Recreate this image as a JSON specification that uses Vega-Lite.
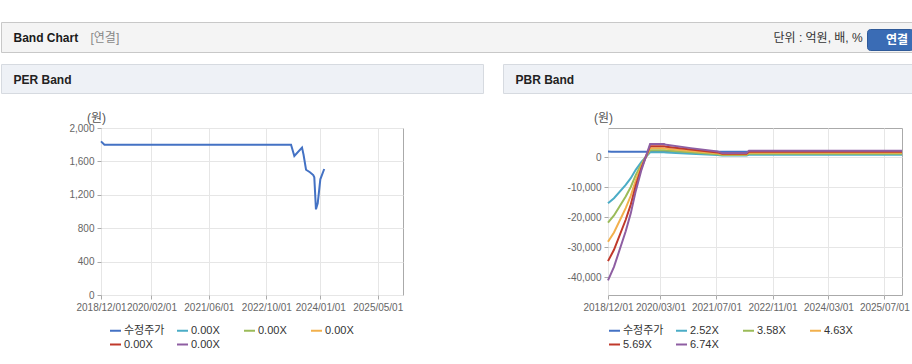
{
  "$schema": "https://vega.github.io/schema/vega-lite/v6.json",
  "padding": {"left": 0, "top": 21, "right": 0, "bottom": 0},
  "background": "#ffffff",
  "config": {
    "font": "Liberation Sans, Noto Sans CJK KR, sans-serif",
    "view": {"stroke": "#aaaaaa"},
    "axis": {"labelFontSize": 10, "labelColor": "#666666", "tickColor": "#aaaaaa", "tickSize": 4, "domain": false, "grid": true, "gridColor": "#e6e6e6", "titleFontSize": 12, "titleFontWeight": "normal", "titleColor": "#555555", "labelPadding": 3, "labelOverlap": false, "labelFlush": false},
    "legend": {"symbolType": "stroke", "symbolSize": 121, "symbolStrokeWidth": 2, "labelFontSize": 11, "labelColor": "#333333", "labelOffset": 2, "columnPadding": 8, "rowPadding": 2, "gridAlign": "all", "padding": 0, "direction": "horizontal"}
  },
  "resolve": {"scale": {"color": "independent", "fill": "independent", "stroke": "independent", "shape": "independent", "strokeDash": "independent"}, "legend": {"color": "independent", "fill": "independent", "stroke": "independent", "shape": "independent", "strokeDash": "independent"}},
  "spacing": 10,
  "vconcat": [
    {
      "width": 912, "height": 30,
      "view": {"fill": "#f4f4f4", "stroke": "#c8c8c8"},
      "data": {"values": [{"head": "Band Chart", "tag": "[연결]", "unit": "단위 : 억원, 배, %", "btn": "연결"}]},
      "mark": {"type": "point", "opacity": 0},
      "encoding": {
        "strokeDash": {"field": "head", "type": "nominal", "legend": {"orient": "none", "legendX": 8, "legendY": 9.5, "title": null, "symbolOpacity": 0, "labelOffset": -8.5, "labelColor": "#1a1a1a", "labelFontWeight": "bold", "labelFontSize": 12}},
        "fill": {"field": "btn", "type": "nominal", "scale": {"range": ["#3a6cb5"]}, "legend": {"orient": "none", "legendX": 866, "legendY": 7, "title": null, "fillColor": "#3a6cb5", "strokeColor": "#2f5a99", "cornerRadius": 3, "padding": 4, "symbolOpacity": 0, "labelColor": "#ffffff", "labelFontWeight": "bold", "labelFontSize": 12}},
        "stroke": {"field": "tag", "type": "nominal", "scale": {"range": ["#888888"]}, "legend": {"orient": "none", "legendX": 85, "legendY": 9.5, "title": null, "symbolOpacity": 0, "labelOffset": -8.5, "labelColor": "#888888", "labelFontSize": 12}},
        "shape": {"field": "unit", "type": "nominal", "legend": {"orient": "none", "legendX": 768, "legendY": 9.5, "title": null, "symbolOpacity": 0, "labelOffset": -8.5, "labelColor": "#333333", "labelFontSize": 12}}
      }
    },
    {
      "spacing": 16,
      "resolve": {"scale": {"color": "independent", "stroke": "independent"}, "legend": {"color": "independent", "stroke": "independent"}},
      "vconcat": [
        {
          "spacing": 18,
          "resolve": {"scale": {"stroke": "independent"}, "legend": {"stroke": "independent"}},
          "hconcat": [
            {
              "width": 482, "height": 29,
              "view": {"fill": "#eef1f6", "stroke": "#d6dae0"},
              "data": {"values": [{"t": "PER Band"}]},
              "mark": {"type": "point", "opacity": 0},
              "encoding": {
                "stroke": {"field": "t", "type": "nominal", "legend": {"orient": "none", "legendX": 8, "legendY": 9.5, "title": null, "symbolOpacity": 0, "labelOffset": -8.5, "labelColor": "#222222", "labelFontWeight": "bold", "labelFontSize": 12}}
              }
            },
            {
              "width": 412, "height": 29,
              "view": {"fill": "#eef1f6", "stroke": "#d6dae0"},
              "data": {"values": [{"t2": "PBR Band"}]},
              "mark": {"type": "point", "opacity": 0},
              "encoding": {
                "stroke": {"field": "t2", "type": "nominal", "legend": {"orient": "none", "legendX": 8, "legendY": 9.5, "title": null, "symbolOpacity": 0, "labelOffset": -8.5, "labelColor": "#222222", "labelFontWeight": "bold", "labelFontSize": 12}}
              }
            }
          ]
        },
        {
          "spacing": 0,
          "bounds": "flush",
          "resolve": {"scale": {"color": "independent"}, "legend": {"color": "independent"}},
          "hconcat": [
            {
              "width": 100, "height": 167,
              "view": {"stroke": null},
              "data": {"values": [{}]},
              "mark": {"type": "point", "opacity": 0},
              "encoding": {}
            },
            {
              "width": 302, "height": 167,
              "data": {"values": [
                {"d": "2018-12-01", "s": "수정주가", "v": 1840},
                {"d": "2018-12-30", "s": "수정주가", "v": 1800},
                {"d": "2023-04-28", "s": "수정주가", "v": 1800},
                {"d": "2023-05-26", "s": "수정주가", "v": 1665},
                {"d": "2023-07-30", "s": "수정주가", "v": 1765},
                {"d": "2023-08-12", "s": "수정주가", "v": 1680},
                {"d": "2023-09-02", "s": "수정주가", "v": 1500},
                {"d": "2023-10-05", "s": "수정주가", "v": 1470},
                {"d": "2023-11-02", "s": "수정주가", "v": 1437},
                {"d": "2023-11-11", "s": "수정주가", "v": 1409},
                {"d": "2023-11-25", "s": "수정주가", "v": 1026},
                {"d": "2023-12-10", "s": "수정주가", "v": 1098},
                {"d": "2024-01-01", "s": "수정주가", "v": 1385},
                {"d": "2024-02-03", "s": "수정주가", "v": 1509}
              ]},
              "mark": {"type": "line", "strokeWidth": 2},
              "encoding": {
                "x": {"field": "d", "type": "temporal",
                  "scale": {"type": "utc", "domain": [{"year": 2018, "month": 12, "date": 1, "utc": true}, {"year": 2025, "month": 12, "date": 1, "utc": true}]},
                  "axis": {"title": null, "values": [
                    {"year": 2018, "month": 12, "date": 1, "utc": true},
                    {"year": 2020, "month": 2, "date": 1, "utc": true},
                    {"year": 2021, "month": 6, "date": 1, "utc": true},
                    {"year": 2022, "month": 10, "date": 1, "utc": true},
                    {"year": 2024, "month": 1, "date": 1, "utc": true},
                    {"year": 2025, "month": 5, "date": 1, "utc": true}
                  ], "labelExpr": "utcFormat(datum.value, '%Y/%m/%d')"}},
                "y": {"field": "v", "type": "quantitative",
                  "scale": {"domain": [0, 2000], "nice": false, "zero": false},
                  "axis": {"values": [0, 400, 800, 1200, 1600, 2000], "labelExpr": "format(datum.value, ',')", "title": "(원)", "titleAngle": 0, "titleX": -5, "titleY": -11, "titleAlign": "center", "titleBaseline": "middle"}},
                "color": {"field": "s", "type": "nominal",
                  "scale": {"domain": ["수정주가", "p1", "p2", "p3", "p4", "p5"], "range": ["#4472c4", "#4bacc6", "#9bbb59", "#f2b04c", "#c0392b", "#8e5ea2"]},
                  "legend": {"orient": "none", "legendX": 8, "legendY": 196, "columns": 4, "direction": "horizontal", "title": null, "labelExpr": "datum.value == '수정주가' ? datum.value : '0.00X'"}}
              }
            },
            {
              "width": 205, "height": 167,
              "view": {"stroke": null},
              "data": {"values": [{}]},
              "mark": {"type": "point", "opacity": 0},
              "encoding": {}
            },
            {
              "width": 294, "height": 167,
              "data": {"values": [
                {"d": "2018-12-01", "s": "수정주가", "v": 1840},
                {"d": "2018-12-30", "s": "수정주가", "v": 1800},
                {"d": "2023-04-28", "s": "수정주가", "v": 1800},
                {"d": "2023-05-26", "s": "수정주가", "v": 1665},
                {"d": "2023-07-30", "s": "수정주가", "v": 1765},
                {"d": "2023-08-12", "s": "수정주가", "v": 1680},
                {"d": "2023-09-02", "s": "수정주가", "v": 1500},
                {"d": "2023-10-05", "s": "수정주가", "v": 1470},
                {"d": "2023-11-02", "s": "수정주가", "v": 1437},
                {"d": "2023-11-11", "s": "수정주가", "v": 1409},
                {"d": "2023-11-25", "s": "수정주가", "v": 1026},
                {"d": "2023-12-10", "s": "수정주가", "v": 1098},
                {"d": "2024-01-01", "s": "수정주가", "v": 1385},
                {"d": "2024-02-03", "s": "수정주가", "v": 1509},

                {"d": "2018-12-01", "s": "2.52X", "v": -15334},
                {"d": "2019-01-22", "s": "2.52X", "v": -13666},
                {"d": "2019-05-04", "s": "2.52X", "v": -9233},
                {"d": "2019-06-17", "s": "2.52X", "v": -7001},
                {"d": "2019-07-30", "s": "2.52X", "v": -4234},
                {"d": "2019-09-18", "s": "2.52X", "v": -1583},
                {"d": "2019-10-25", "s": "2.52X", "v": 0},
                {"d": "2019-12-02", "s": "2.52X", "v": 1620},
                {"d": "2020-04-02", "s": "2.52X", "v": 1620},
                {"d": "2020-04-20", "s": "2.52X", "v": 1532},
                {"d": "2020-11-20", "s": "2.52X", "v": 1121},
                {"d": "2021-07-11", "s": "2.52X", "v": 698},
                {"d": "2021-08-20", "s": "2.52X", "v": 504},
                {"d": "2022-03-20", "s": "2.52X", "v": 504},
                {"d": "2022-04-10", "s": "2.52X", "v": 806},
                {"d": "2025-12-01", "s": "2.52X", "v": 806},

                {"d": "2018-12-01", "s": "3.58X", "v": -21784},
                {"d": "2019-01-22", "s": "3.58X", "v": -19414},
                {"d": "2019-05-04", "s": "3.58X", "v": -13117},
                {"d": "2019-06-17", "s": "3.58X", "v": -9945},
                {"d": "2019-07-30", "s": "3.58X", "v": -6014},
                {"d": "2019-09-18", "s": "3.58X", "v": -2248},
                {"d": "2019-10-25", "s": "3.58X", "v": 0},
                {"d": "2019-12-02", "s": "3.58X", "v": 2302},
                {"d": "2020-04-02", "s": "3.58X", "v": 2302},
                {"d": "2020-04-20", "s": "3.58X", "v": 2177},
                {"d": "2020-11-20", "s": "3.58X", "v": 1593},
                {"d": "2021-07-11", "s": "3.58X", "v": 992},
                {"d": "2021-08-20", "s": "3.58X", "v": 716},
                {"d": "2022-03-20", "s": "3.58X", "v": 716},
                {"d": "2022-04-10", "s": "3.58X", "v": 1146},
                {"d": "2025-12-01", "s": "3.58X", "v": 1146},

                {"d": "2018-12-01", "s": "4.63X", "v": -28174},
                {"d": "2019-01-22", "s": "4.63X", "v": -25108},
                {"d": "2019-05-04", "s": "4.63X", "v": -16964},
                {"d": "2019-06-17", "s": "4.63X", "v": -12862},
                {"d": "2019-07-30", "s": "4.63X", "v": -7778},
                {"d": "2019-09-18", "s": "4.63X", "v": -2908},
                {"d": "2019-10-25", "s": "4.63X", "v": 0},
                {"d": "2019-12-02", "s": "4.63X", "v": 2977},
                {"d": "2020-04-02", "s": "4.63X", "v": 2977},
                {"d": "2020-04-20", "s": "4.63X", "v": 2815},
                {"d": "2020-11-20", "s": "4.63X", "v": 2060},
                {"d": "2021-07-11", "s": "4.63X", "v": 1283},
                {"d": "2021-08-20", "s": "4.63X", "v": 926},
                {"d": "2022-03-20", "s": "4.63X", "v": 926},
                {"d": "2022-04-10", "s": "4.63X", "v": 1482},
                {"d": "2025-12-01", "s": "4.63X", "v": 1482},

                {"d": "2018-12-01", "s": "5.69X", "v": -34624},
                {"d": "2019-01-22", "s": "5.69X", "v": -30857},
                {"d": "2019-05-04", "s": "5.69X", "v": -20848},
                {"d": "2019-06-17", "s": "5.69X", "v": -15807},
                {"d": "2019-07-30", "s": "5.69X", "v": -9559},
                {"d": "2019-09-18", "s": "5.69X", "v": -3573},
                {"d": "2019-10-25", "s": "5.69X", "v": 0},
                {"d": "2019-12-02", "s": "5.69X", "v": 3659},
                {"d": "2020-04-02", "s": "5.69X", "v": 3659},
                {"d": "2020-04-20", "s": "5.69X", "v": 3460},
                {"d": "2020-11-20", "s": "5.69X", "v": 2532},
                {"d": "2021-07-11", "s": "5.69X", "v": 1576},
                {"d": "2021-08-20", "s": "5.69X", "v": 1138},
                {"d": "2022-03-20", "s": "5.69X", "v": 1138},
                {"d": "2022-04-10", "s": "5.69X", "v": 1821},
                {"d": "2025-12-01", "s": "5.69X", "v": 1821},

                {"d": "2018-12-01", "s": "6.74X", "v": -41013},
                {"d": "2019-01-22", "s": "6.74X", "v": -36551},
                {"d": "2019-05-04", "s": "6.74X", "v": -24695},
                {"d": "2019-06-17", "s": "6.74X", "v": -18724},
                {"d": "2019-07-30", "s": "6.74X", "v": -11323},
                {"d": "2019-09-18", "s": "6.74X", "v": -4233},
                {"d": "2019-10-25", "s": "6.74X", "v": 0},
                {"d": "2019-12-02", "s": "6.74X", "v": 4334},
                {"d": "2020-04-02", "s": "6.74X", "v": 4334},
                {"d": "2020-04-20", "s": "6.74X", "v": 4098},
                {"d": "2020-11-20", "s": "6.74X", "v": 2999},
                {"d": "2021-07-11", "s": "6.74X", "v": 1867},
                {"d": "2021-08-20", "s": "6.74X", "v": 1348},
                {"d": "2022-03-20", "s": "6.74X", "v": 1348},
                {"d": "2022-04-10", "s": "6.74X", "v": 2157},
                {"d": "2025-12-01", "s": "6.74X", "v": 2157}
              ]},
              "mark": {"type": "line", "strokeWidth": 2},
              "encoding": {
                "x": {"field": "d", "type": "temporal",
                  "scale": {"type": "utc", "domain": [{"year": 2018, "month": 12, "date": 1, "utc": true}, {"year": 2025, "month": 12, "date": 1, "utc": true}]},
                  "axis": {"title": null, "values": [
                    {"year": 2018, "month": 12, "date": 1, "utc": true},
                    {"year": 2020, "month": 3, "date": 1, "utc": true},
                    {"year": 2021, "month": 7, "date": 1, "utc": true},
                    {"year": 2022, "month": 11, "date": 1, "utc": true},
                    {"year": 2024, "month": 3, "date": 1, "utc": true},
                    {"year": 2025, "month": 7, "date": 1, "utc": true}
                  ], "labelExpr": "utcFormat(datum.value, '%Y/%m/%d')"}},
                "y": {"field": "v", "type": "quantitative",
                  "scale": {"domain": [-45900, 9700], "nice": false, "zero": false},
                  "axis": {"values": [-40000, -30000, -20000, -10000, 0], "labelExpr": "replace(format(datum.value, ','), '−', '-')", "title": "(원)", "titleAngle": 0, "titleX": -5, "titleY": -11, "titleAlign": "center", "titleBaseline": "middle"}},
                "color": {"field": "s", "type": "nominal",
                  "scale": {"domain": ["수정주가", "2.52X", "3.58X", "4.63X", "5.69X", "6.74X"], "range": ["#4472c4", "#4bacc6", "#9bbb59", "#f2b04c", "#c0392b", "#8e5ea2"]},
                  "legend": {"orient": "none", "legendX": 0, "legendY": 196, "columns": 4, "direction": "horizontal", "title": null}}
              }
            }
          ]
        }
      ]
    }
  ]
}
